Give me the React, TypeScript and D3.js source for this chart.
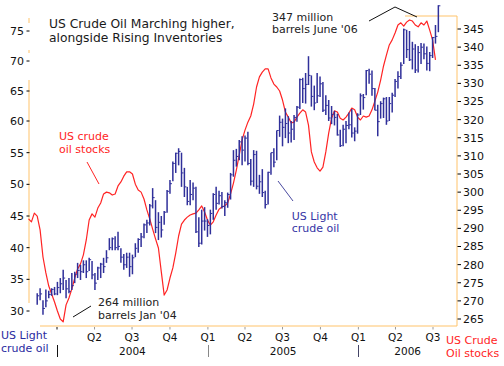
import React from 'react';
import * as d3 from 'd3';

// ---- data ----
const barStart = new Date(2003, 10, 14); // weekly bars (Fridays)
const stockStart = new Date(2003, 9, 24); // weekly inventory points

const barHigh = [
  32.8, 33.6, 31.7, 33.4, 33.2, 33.6, 33.8,
  34.6, 35.2, 36.5, 34.9, 35.2,
  36.0, 36.2, 37.6, 37.3,
  38.0, 38.0, 38.4, 37.9,
  36.0, 37.0, 37.6, 38.4, 39.6,
  41.5, 41.6, 41.8, 42.5,
  39.9, 39.0, 39.2, 39.2,
  38.9, 40.7, 41.5, 42.3, 43.8,
  44.4, 46.9, 49.4, 47.5,
  45.6, 45.0, 45.8, 49.1,
  50.7, 53.6, 55.0, 55.7, 55.0,
  52.6, 49.6, 50.7, 50.3,
  49.6, 44.8, 46.0, 46.4, 44.5,
  46.0, 48.6, 49.6, 49.0,
  48.8, 47.5, 48.7, 51.8,
  55.4, 55.6, 57.0, 57.6,
  57.7, 58.3, 54.0, 55.4, 55.3,
  51.5, 52.4, 49.0, 52.0,
  55.0, 55.7, 58.5, 60.9,
  60.4, 62.1, 60.8, 60.0, 61.0,
  62.5, 67.1, 67.2, 68.0,
  70.8, 67.6, 65.9, 68.0, 67.4,
  66.5, 64.3, 63.5, 62.5,
  61.7, 61.2, 58.6, 59.4,
  60.0, 61.4, 62.0, 59.0, 61.3,
  64.6, 64.5, 68.5, 68.7,
  68.4, 65.5, 62.7, 63.3,
  63.9, 64.0, 64.0, 64.7, 67.0,
  68.3, 69.8, 75.4, 75.2,
  75.0, 73.2, 72.8, 72.5,
  73.0, 72.9, 72.4, 71.5, 74.0,
  76.0, 79.3,
];
const barLow = [
  31.0, 31.7, 29.4, 30.6, 32.0, 32.4, 32.5,
  32.5, 32.8, 33.3, 32.0, 32.8,
  33.3, 34.4, 35.2, 34.9,
  36.0, 35.2, 36.3, 35.0,
  33.3, 34.9, 35.2, 36.0, 37.6,
  39.6, 39.6, 39.6, 39.6,
  37.6, 36.5, 36.8, 35.4,
  35.8, 38.5, 39.2, 40.1, 41.5,
  42.3, 43.5, 46.2, 42.3,
  41.2, 41.6, 43.6, 45.5,
  48.5, 50.5, 51.8, 53.0, 49.6,
  48.0, 46.7, 46.7, 47.5,
  42.3, 40.1, 40.5, 42.7, 41.7,
  42.1, 44.4, 46.0, 46.8,
  46.2, 45.0, 46.3, 47.6,
  51.2, 52.8, 53.8, 53.0,
  53.6, 53.0, 49.8, 49.6, 49.2,
  48.5, 48.0, 46.2, 46.8,
  51.5, 52.7, 53.8, 57.5,
  56.0, 57.3, 56.5, 56.6, 57.0,
  59.9, 62.0, 63.0, 62.9,
  66.0, 62.4, 61.8, 63.0, 64.0,
  61.5, 61.0, 60.0, 59.5,
  59.3, 57.7, 55.9, 56.0,
  56.5, 58.7, 57.4, 56.8, 58.0,
  61.0, 61.9, 64.3, 66.2,
  64.2, 61.8, 57.6, 60.4,
  60.5, 59.4, 60.0, 61.4, 64.0,
  65.4, 67.0, 69.5, 70.5,
  70.0, 68.6, 68.0, 68.1,
  69.5, 70.3, 68.4, 68.3, 70.5,
  72.9, 74.8,
];
const barClose = [
  32.4, 32.7, 30.4, 31.6, 32.6, 33.4, 32.7,
  33.7, 34.3, 35.2, 33.5, 33.1,
  34.0, 35.8, 36.4, 36.2,
  37.3, 36.2, 38.1, 35.7,
  34.4, 36.8, 37.4, 37.0, 38.4,
  40.0, 41.4, 40.0, 40.2,
  38.5, 37.3, 38.5, 37.0,
  38.4, 39.9, 41.3, 41.7, 43.6,
  43.9, 46.6, 47.9, 43.2,
  44.0, 42.8, 45.6, 48.9,
  50.1, 53.3, 54.9, 55.2, 51.8,
  49.6, 47.3, 48.4, 49.4,
  42.5, 40.7, 44.2, 44.2, 43.5,
  45.4, 48.4, 47.0, 48.2,
  46.5, 47.1, 48.4, 51.5,
  53.8, 54.4, 56.7, 55.4,
  57.3, 53.3, 50.5, 54.7, 49.7,
  50.4, 48.7, 46.8, 51.9,
  55.0, 53.5, 58.5, 59.8,
  59.0, 59.6, 58.1, 58.7, 60.6,
  62.3, 66.9, 65.4, 66.1,
  67.6, 64.1, 63.0, 64.2, 66.2,
  61.8, 62.6, 60.5, 61.1,
  60.6, 57.8, 56.1, 58.7,
  59.3, 59.4, 58.1, 58.4, 61.0,
  64.2, 63.9, 68.4, 67.8,
  65.4, 61.8, 59.9, 62.9,
  63.7, 60.0, 62.9, 64.3, 66.6,
  67.4, 69.3, 75.2, 71.9,
  70.2, 72.0, 68.5, 71.4,
  72.3, 71.2, 69.6, 70.9, 73.9,
  74.1, 79.2,
];
const stocks = [
  292.6, 291.8, 294.2, 293.4, 289.6, 282.1, 277.7, 274.1, 271.9, 269.7,
  267.2, 265.0, 264.2, 268.9, 270.8, 273.3, 276.3, 278.8, 280.2, 282.7,
  286.8, 292.3, 294.0, 293.1, 295.6, 297.0, 299.5, 300.0, 299.8, 299.2,
  299.5, 301.7, 302.8, 304.4, 305.6, 305.6, 305.0, 302.2, 300.6, 300.0,
  298.1, 295.1, 292.6, 289.8, 287.1, 284.6, 278.0, 271.6, 273.0, 276.3,
  279.1, 283.2, 287.9, 291.2, 292.3, 293.1, 293.7, 294.0, 294.2, 295.1,
  296.2, 294.5, 292.3, 290.9, 291.8, 293.7, 295.3, 295.9, 296.2, 297.0,
  299.5, 302.5, 306.1, 310.2, 314.4, 317.1, 319.3, 321.0, 324.3, 329.0,
  331.8, 333.1, 334.0, 334.0, 331.5, 329.8, 329.0, 327.9, 325.4, 322.1,
  320.7, 319.1, 319.3, 320.7, 321.8, 322.7, 322.1, 318.5, 311.1, 308.3,
  306.7, 305.8, 306.9, 311.1, 316.3, 320.4, 322.4, 322.1, 320.4, 319.9,
  320.7, 321.8, 323.2, 322.7, 320.7, 319.9, 321.0, 320.7, 321.0, 322.7,
  325.1, 327.6, 330.9, 334.8, 337.8, 340.6, 342.0, 343.9, 346.1, 346.7,
  345.8, 346.9, 347.5, 347.2, 346.1, 345.6, 346.7, 346.1, 347.2, 344.7,
  342.0, 336.5,
];

const priceTicks = [30, 35, 40, 45, 50, 55, 60, 65, 70, 75];
const stockTicks = [265, 270, 275, 280, 285, 290, 295, 300, 305, 310, 315, 320, 325, 330, 335, 340, 345];
const quarterDates = [
  new Date(2004, 0, 1), new Date(2004, 3, 1), new Date(2004, 6, 1), new Date(2004, 9, 1),
  new Date(2005, 0, 1), new Date(2005, 3, 1), new Date(2005, 6, 1), new Date(2005, 9, 1),
  new Date(2006, 0, 1), new Date(2006, 3, 1), new Date(2006, 6, 1),
];
const quarterLabels = ['', 'Q2', 'Q3', 'Q4', 'Q1', 'Q2', 'Q3', 'Q4', 'Q1', 'Q2', 'Q3'];
const yearLabels = ['2004', '2005', '2006'];
const yearStarts = [new Date(2004, 0, 1), new Date(2005, 0, 1), new Date(2006, 0, 1)];

// ---- layout ----
const W = 504, H = 366;
const plotLeft = 29, plotRight = 457, plotBottom = 326;
const FONT = '"DejaVu Sans", Verdana, sans-serif';
const AXIS = '#ffc36b';
const NAVY = '#30309a';
const RED = '#ff2424';

export default function App() {
  const x = d3.scaleTime().domain([new Date(2004, 0, 1), new Date(2006, 6, 1)]).range([57, 433]);
  const yP = d3.scaleLinear().domain([30, 60, 75]).range([311, 121, 31]);
  const yS = d3.scaleLinear().domain([265, 345]).range([319, 29]);

  const barDates = barHigh.map((_, i) => d3.timeWeek.offset(barStart, i));
  const stockDates = stocks.map((_, i) => d3.timeWeek.offset(stockStart, i));

  const line = d3.line<number>()
    .x((_, i) => x(stockDates[i]))
    .y((d) => yS(d))
    .curve(d3.curveLinear);

  const yearEdges = [x(yearStarts[0]), x(yearStarts[1]), x(yearStarts[2]), plotRight];
  const sepColors = ['#111', '#888', '#444466'];

  return (
    <svg width={W} height={H} style={{ position: 'absolute', left: 0, top: 0, background: '#fff' }}
      fontFamily={FONT}>
      <rect x={0} y={0} width={W} height={H} fill="#fff" />

      {/* axes lines */}
      <line x1={plotLeft} x2={plotLeft} y1={80} y2={303} stroke={AXIS} strokeWidth={1} />
      <line x1={plotLeft} x2={plotLeft} y1={18} y2={23} stroke={AXIS} strokeWidth={1} />
      <line x1={plotLeft} x2={plotLeft} y1={50} y2={53} stroke={AXIS} strokeWidth={1} />
      <line x1={plotRight} x2={plotRight} y1={16} y2={plotBottom} stroke={AXIS} strokeWidth={1} />
      <line x1={40} x2={plotRight} y1={plotBottom} y2={plotBottom} stroke={AXIS} strokeWidth={1} />
      <line x1={405} x2={plotRight} y1={16} y2={16} stroke={AXIS} strokeWidth={1} />

      {/* left ticks */}
      {priceTicks.map((t) => (
        <g key={'p' + t}>
          <line x1={26.5} x2={29.5} y1={yP(t)} y2={yP(t)} stroke="#000" strokeWidth={1} />
          <text x={24} y={yP(t)} dy="0.36em" textAnchor="end" fontSize={11} fill="#111">{t}</text>
        </g>
      ))}
      {/* right ticks */}
      {stockTicks.map((t) => (
        <g key={'s' + t}>
          <line x1={457.5} x2={461} y1={yS(t)} y2={yS(t)} stroke="#000" strokeWidth={1} />
          <text x={463} y={yS(t)} dy="0.36em" textAnchor="start" fontSize={11} fill="#111">{t}</text>
        </g>
      ))}

      {/* x axis */}
      {quarterDates.map((d, i) => (
        <g key={'q' + i}>
          <line x1={x(d)} x2={x(d)} y1={327} y2={329.5} stroke={i === 0 ? '#111' : '#999'} strokeWidth={1} />
          {quarterLabels[i] && (
            <text x={x(d)} y={340.5} textAnchor="middle" fontSize={10.5} fill="#111">{quarterLabels[i]}</text>
          )}
        </g>
      ))}
      {yearStarts.map((d, i) => (
        <line key={'ys' + i} x1={Math.round(x(d)) + 0.5} x2={Math.round(x(d)) + 0.5} y1={345} y2={357}
          stroke={sepColors[i]} strokeWidth={1} />
      ))}
      {yearLabels.map((l, i) => (
        <text key={'yl' + i} x={(yearEdges[i] + yearEdges[i + 1]) / 2} y={354.5} textAnchor="middle"
          fontSize={10.5} fill="#111">{l}</text>
      ))}

      {/* inventories line */}
      <path d={line(stocks) || ''} fill="none" stroke={RED} strokeWidth={1.2} strokeLinejoin="round" />

      {/* price bars */}
      {barHigh.map((h, i) => {
        const bx = x(barDates[i]);
        return (
          <g key={'b' + i}>
            <line x1={bx} x2={bx} y1={yP(h)} y2={yP(barLow[i])} stroke={NAVY} strokeWidth={1.5} />
            <line x1={bx} x2={bx + 2} y1={yP(barClose[i])} y2={yP(barClose[i])} stroke={NAVY} strokeWidth={1} />
          </g>
        );
      })}

      {/* title */}
      <text x={49} y={28} fontSize={12.3} fill="#1a1a1a">US Crude Oil Marching higher,</text>
      <text x={49} y={41.5} fontSize={12.3} fill="#1a1a1a">alongside Rising Inventories</text>

      {/* annotations */}
      <text x={272} y={20.5} fontSize={11} fill="#222">347 million</text>
      <text x={272} y={32.7} fontSize={11} fill="#222">barrels June '06</text>
      <polyline points="369,21 395,7 417,17" fill="none" stroke="#111" strokeWidth={1} />

      <text x={98} y={305.7} fontSize={11} fill="#222">264 million</text>
      <text x={98} y={319} fontSize={11} fill="#222">barrels Jan '04</text>
      <line x1={73} y1={317} x2={91} y2={306} stroke="#111" strokeWidth={1} />

      <text x={59} y={140} fontSize={11} fill={RED}>US crude</text>
      <text x={59} y={152.7} fontSize={11} fill={RED}>oil stocks</text>
      <line x1={87} y1={162} x2={99} y2={184} stroke={RED} strokeWidth={1} />

      <text x={291.7} y={220} fontSize={11} fill="#3535a5">US Light</text>
      <text x={291.7} y={232.3} fontSize={11} fill="#3535a5">crude oil</text>
      <line x1={278} y1={181} x2={293} y2={201} stroke="#4a4aa0" strokeWidth={1} />

      <text x={1} y={339} fontSize={11} fill="#2a2aa0">US Light</text>
      <text x={1} y={351.7} fontSize={11} fill="#2a2aa0">crude oil</text>

      <text x={446} y={344} fontSize={11} fill={RED}>US Crude</text>
      <text x={446} y={356.7} fontSize={11} fill={RED}>Oil stocks</text>
    </svg>
  );
}
